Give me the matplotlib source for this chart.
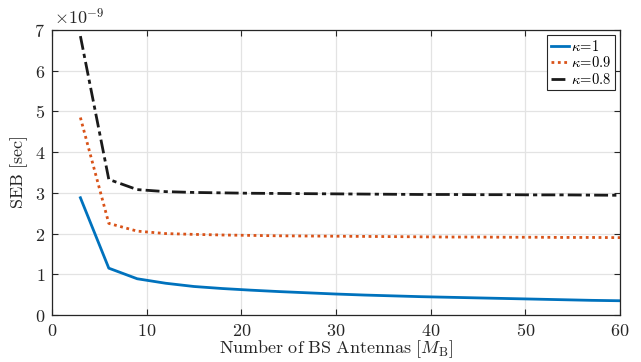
import matplotlib
matplotlib.use("Agg")
import matplotlib.pyplot as plt
import numpy as np
from matplotlib.ticker import FuncFormatter

plt.rcParams['mathtext.fontset'] = 'cm'
plt.rcParams['font.family'] = 'serif'
plt.rcParams['font.serif'] = ['DejaVu Serif']

M = [3, 6, 9, 12, 15, 18, 21, 24, 27, 30, 33, 36, 39, 42, 45, 48, 51, 54, 57, 60]
seb_k1 = [2.88, 1.15, 0.89, 0.78, 0.70, 0.65, 0.61, 0.575, 0.545, 0.515, 0.49, 0.47, 0.45, 0.435, 0.42, 0.405, 0.39, 0.375, 0.36, 0.35]
seb_k09 = [4.85, 2.25, 2.06, 2.00, 1.98, 1.965, 1.955, 1.945, 1.94, 1.935, 1.93, 1.925, 1.92, 1.915, 1.915, 1.91, 1.91, 1.905, 1.905, 1.90]
seb_k08 = [6.85, 3.33, 3.08, 3.03, 3.01, 3.00, 2.99, 2.985, 2.98, 2.975, 2.97, 2.965, 2.96, 2.96, 2.955, 2.955, 2.95, 2.95, 2.945, 2.94]
labels = [r'$\kappa\!=\!1$', r'$\kappa\!=\!0.9$', r'$\kappa\!=\!0.8$']
xticks = [0, 10, 20, 30, 40, 50, 60]
yticks = [0, 1, 2, 3, 4, 5, 6, 7]

fig = plt.figure(figsize=(6.41, 3.62), dpi=100)
ax = fig.add_axes([52/641, 1 - 315/362, 568/641, 285/362])

ax.plot(M, seb_k1, color='#0072BD', lw=2.0, label=labels[0])
ax.plot(M, seb_k09, color='#D95319', lw=2.0, ls=(0, (1, 1.3)), label=labels[1])
ax.plot(M, seb_k08, color='#1a1a1a', lw=2.0, ls=(0, (5, 1.5, 1.5, 1.5)), label=labels[2])

ax.set_xlim(0, 60)
ax.set_ylim(0, 7)
ax.set_xticks(xticks)
ax.set_yticks(yticks)
fmt = FuncFormatter(lambda v, p: r'$\mathrm{%d}$' % v)
ax.xaxis.set_major_formatter(fmt)
ax.yaxis.set_major_formatter(fmt)
ax.tick_params(direction='in', top=True, right=True, length=4, width=0.8,
               labelsize=13, colors='#262626', pad=5)
ax.grid(True, color='#e3e3e3', lw=0.9)
ax.set_axisbelow(True)
for s in ax.spines.values():
    s.set_color('#262626')
    s.set_linewidth(0.9)

ax.set_xlabel(r'$\mathrm{Number\ of\ BS\ Antennas\ [}M_{\mathrm{B}}\mathrm{]}$', fontsize=13, color='#262626', labelpad=-1)
ax.set_ylabel(r'$\mathrm{SEB\ [sec]}$', fontsize=13, color='#262626', labelpad=3)
fig.text(54/641, 1 - 18/362, r'$\times 10^{-9}$', fontsize=13, color='#262626', va='center', ha='left')

leg = ax.legend(loc='upper right', fontsize=10.5, frameon=True, fancybox=False,
                handlelength=1.2, handletextpad=0.15, borderpad=0.25, labelspacing=0.1,
                borderaxespad=0.35)
leg.get_frame().set_edgecolor('#262626')
leg.get_frame().set_linewidth(0.8)
leg.get_frame().set_alpha(1)

fig.savefig('out.png', dpi=100)
